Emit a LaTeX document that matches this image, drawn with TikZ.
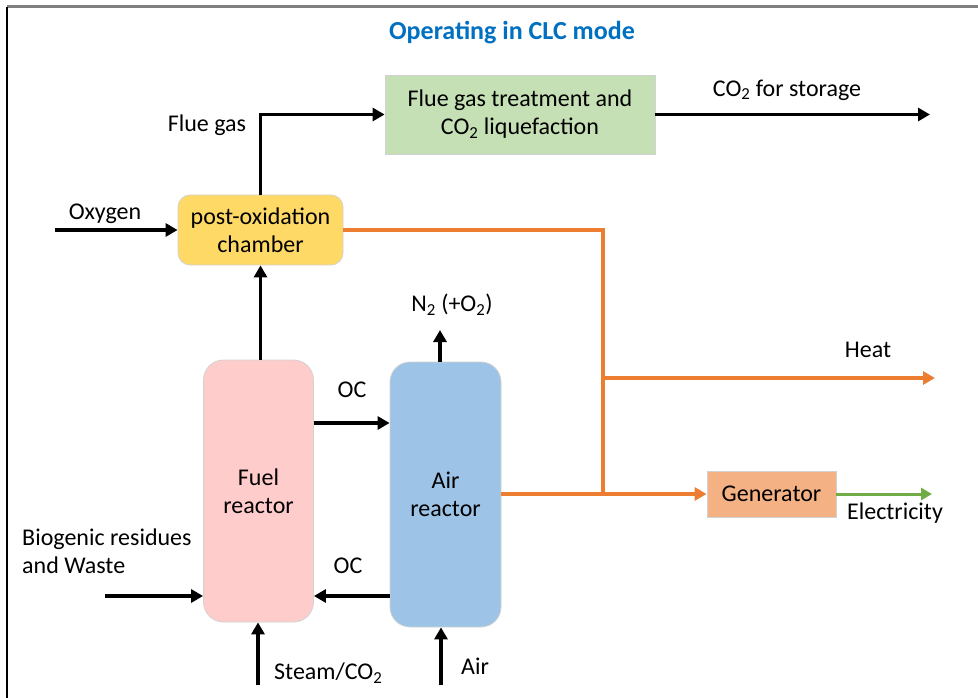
\documentclass[tikz,border=0pt]{standalone}
\usepackage{fontspec}
\setmainfont{Carlito}
\usetikzlibrary{arrows.meta}
\definecolor{titleblue}{HTML}{0070C0}
\definecolor{boxgreen}{HTML}{C5E0B4}
\definecolor{boxyellow}{HTML}{FFD966}
\definecolor{boxpink}{HTML}{FFCCCC}
\definecolor{boxblue}{HTML}{9DC3E6}
\definecolor{boxgen}{HTML}{F4B183}
\definecolor{heatorange}{HTML}{ED7D31}
\definecolor{elecgreen}{HTML}{70AD47}
\tikzset{
  txt/.style={font=\fontsize{24}{28}\selectfont, inner sep=0pt, align=center},
  blk/.style={txt, draw=gray!35, line width=0.8pt, rectangle},
  arr/.style={line width=3.6pt, -{Triangle[length=12pt,width=13pt]}},
  orng/.style={line width=3.6pt, draw=heatorange},
  orngarr/.style={orng, -{Triangle[length=12pt,width=13pt]}, heatorange},
  grnarr/.style={line width=3pt, draw=elecgreen, -{Triangle[length=11pt,width=12pt]}, elecgreen},
}
\begin{document}
\begin{tikzpicture}[x=1pt,y=-1pt]
\useasboundingbox (0,0) rectangle (978,698);
% frame
\draw[gray, line width=3pt] (7,7) -- (978,7);
\draw[black, line width=2pt] (7,7) -- (7,698);
% title
\node[txt, font=\fontsize{26}{30}\selectfont\bfseries, text=titleblue] (title) at (512,33) {Operating in CLC mode};
% boxes
\node[blk, fill=boxgreen, minimum width=270pt, minimum height=79pt] (green) at (520,114.5) {Flue gas treatment and\\CO\textsubscript{2} liquefaction};
\node[blk, fill=boxyellow, rounded corners=12pt, minimum width=165pt, minimum height=70pt] (post) at (260.5,230) {post-oxidation\\chamber};
\node[blk, fill=boxpink, rounded corners=20pt, minimum width=110pt, minimum height=262pt] (fuel) at (258.5,491) {Fuel\\reactor};
\node[blk, fill=boxblue, rounded corners=20pt, minimum width=111pt, minimum height=265pt] (air) at (445.5,494.5) {Air\\reactor};
\node[blk, fill=boxgen, minimum width=129pt, minimum height=46pt] (gen) at (771.5,494) {Generator};
% coordinates
\coordinate (co2end) at (930,114.5);
\coordinate (oxin) at (55,230);
\coordinate (n2end) at (440,330);
\coordinate (ocT) at (0,423);
\coordinate (ocB) at (0,596);
\coordinate (bioin) at (105,596);
\coordinate (steamin) at (258,685);
\coordinate (airin) at (441,685);
\coordinate (j1) at (603,494);
\coordinate (j2) at (603,378);
\coordinate (heatend) at (935,378);
\coordinate (elecend) at (932,494);
% black connectors
\draw[arr] (post.north) |- (green.west);
\draw[arr] (green.east) -- (co2end);
\draw[arr] (oxin) -- (post.west);
\draw[arr] (fuel.north -| post.south) -- (post.south);
\draw[arr] (air.north -| n2end) -- (n2end);
\draw[arr] (fuel.east |- ocT) -- (air.west |- ocT);
\draw[arr] (air.west |- ocB) -- (fuel.east |- ocB);
\draw[arr] (bioin) -- (fuel.west |- bioin);
\draw[arr] (steamin) -- (fuel.south -| steamin);
\draw[arr] (airin) -- (air.south -| airin);
% orange connectors
\draw[orng] (post.east) -| (j1);
\draw[orngarr] (air.east |- j1) -- (gen.west);
\draw[orngarr] (j2) -- (heatend);
% green connector
\draw[grnarr] (gen.east) -- (elecend);
% labels
\node[txt] (lflue) at (207,125) {Flue gas};
\node[txt] (lco2) at (787,90) {CO\textsubscript{2} for storage};
\node[txt] (lox) at (105,214) {Oxygen};
\node[txt] (ln2) at (452,305) {N\textsubscript{2} (+O\textsubscript{2})};
\node[txt] (loct) at (352,390) {OC};
\node[txt] (locb) at (348,566) {OC};
\node[txt, align=left, anchor=west] (lbio) at (22,551) {Biogenic residues\\and Waste};
\node[txt, anchor=west] (lsteam) at (274,673) {Steam/CO\textsubscript{2}};
\node[txt] (lair) at (475,666) {Air};
\node[txt] (lheat) at (868,350) {Heat};
\node[txt] (lelec) at (895,513) {Electricity};
\end{tikzpicture}
\end{document}
